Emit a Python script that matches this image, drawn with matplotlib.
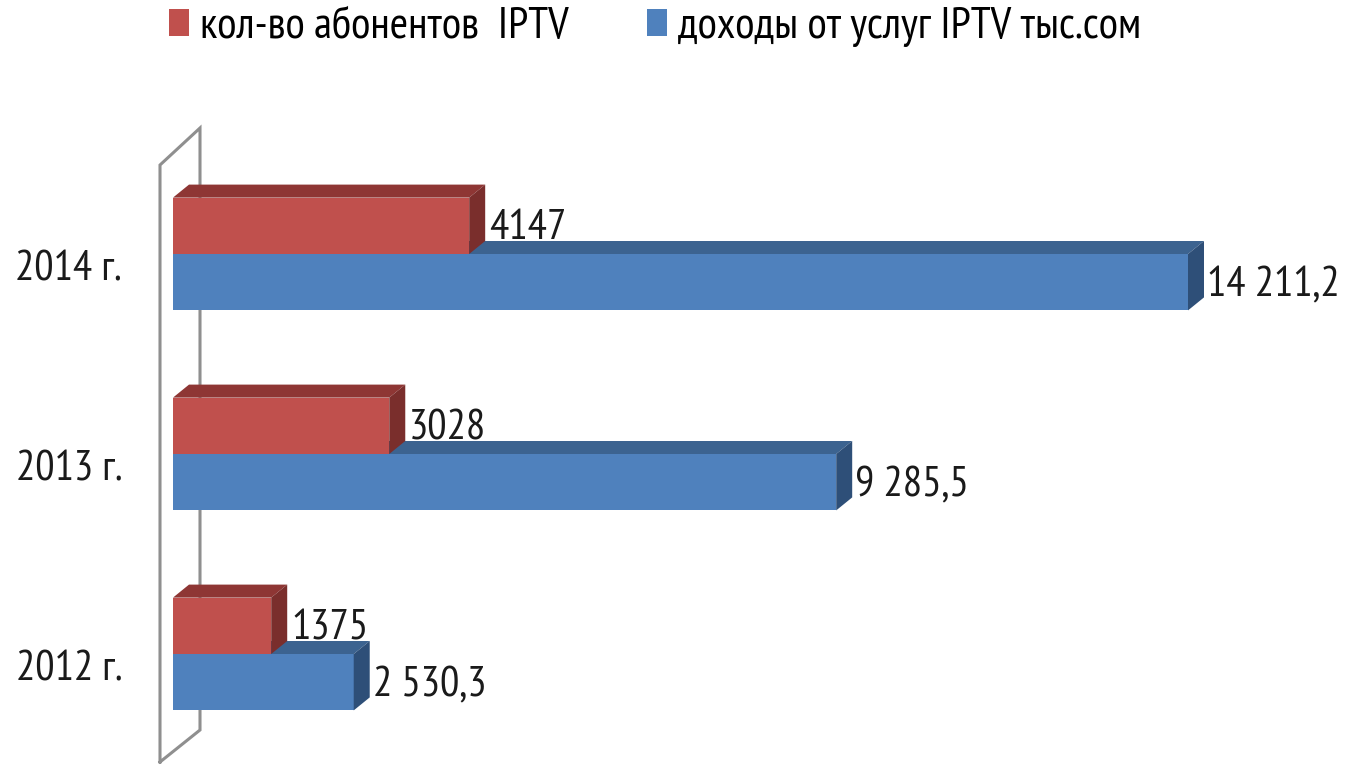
import matplotlib
matplotlib.use("Agg")
import matplotlib.pyplot as plt
from matplotlib.patches import Polygon, Patch

categories = ["2012 г.", "2013 г.", "2014 г."]
subscribers = [1375, 3028, 4147]
revenue = [2530.3, 9285.5, 14211.2]
subscriber_labels = ["1375", "3028", "4147"]
revenue_labels = ["2 530,3", "9 285,5", "14 211,2"]
series_names = ["кол-во абонентов  IPTV", "доходы от услуг IPTV тыс.сом"]

plt.rcParams["font.family"] = ["PT Sans Narrow", "DejaVu Sans"]

W, H = 1348, 765
fig = plt.figure(figsize=(W / 100, H / 100), dpi=100)
ax = fig.add_axes([0, 0, 1, 1])
ax.set_axis_off()

S = 14211.2 / 1015.0          # data units per pixel (x)
PY = 200.0                    # pixels per category (y)
x0 = 173
ax.set_xlim(-x0 * S, (W - x0) * S)
ax.set_ylim(2 - (H - 254) / PY, 2 + 254 / PY)

red_f, red_t, red_s = "#C0504D", "#8E3634", "#7A2E2C"
blue_f, blue_t, blue_s = "#4F81BD", "#3C6390", "#2E4F78"
dx = 16 * S
dy = 13 / PY
bh = 0.282

# side wall
wall_c = "#8F8F8F"
fx, bx = -13 * S, 27 * S
ax.plot([fx, fx, bx, bx, fx, fx], [2 - (762 - 254) / PY, 2 + (254 - 165) / PY, 2 + (254 - 128) / PY,
         2 - (730 - 254) / PY, 2 - (762 - 254) / PY, 2 - (762 - 254) / PY],
        color=wall_c, lw=2.2, zorder=1, solid_joinstyle="miter")


def bar3d(y0, v, cf, ct, cs, z):
    y1 = y0 + bh
    ax.barh(y0, v, height=bh, align="edge", color=cf, zorder=z, linewidth=0)
    ax.add_patch(Polygon([(0, y1), (v, y1), (v + dx, y1 + dy), (dx, y1 + dy)], closed=True,
                         facecolor=ct, edgecolor="none", zorder=z))
    ax.add_patch(Polygon([(v, y0), (v, y1), (v + dx, y1 + dy), (v + dx, y0 + dy)], closed=True,
                         facecolor=cs, edgecolor="none", zorder=z))


fs = 31
for i, cat in enumerate(categories):
    bar3d(i - bh, revenue[i], blue_f, blue_t, blue_s, 2 + i * 2)
    bar3d(i, subscribers[i], red_f, red_t, red_s, 3 + i * 2)
    ax.text(revenue[i] + dx + 3 * S, i - bh / 2 - 4 / PY, revenue_labels[i], fontsize=fs,
            ha="left", va="center", color="#1a1a1a", zorder=10)
    ax.text(subscribers[i] + dx + 4 * S, i + bh / 2 - 3 / PY, subscriber_labels[i], fontsize=fs,
            ha="left", va="center", color="#1a1a1a", zorder=10)
    ax.text(-51 * S, i - 16 / PY, cat, fontsize=fs, ha="right", va="center", color="#1a1a1a")

handles = [Patch(facecolor=red_f, edgecolor="none"), Patch(facecolor=blue_f, edgecolor="none")]
fig.legend(handles, series_names, loc="upper left", bbox_to_anchor=(169 / W, 1 - 7 / H), ncol=2,
           frameon=False, fontsize=32, handlelength=0.45, handleheight=0.55, handletextpad=0.25,
           columnspacing=1.75, borderpad=0, borderaxespad=0)

fig.savefig("out.png", dpi=100, facecolor="white")
